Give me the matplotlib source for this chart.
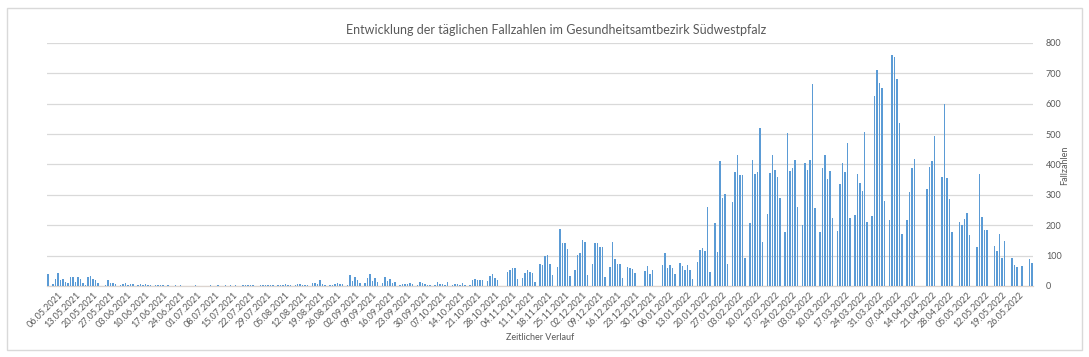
import datetime as dt

import matplotlib.pyplot as plt
import numpy as np
from matplotlib.patches import Rectangle

plt.rcParams['font.family'] = ['Lato', 'DejaVu Sans']

# Tägliche Fallzahlen ab So 02.05.2021, danach Wochen Mo..So
start = dt.date(2021, 5, 2)
faelle = [
    38,
    0, 7, 22, 42, 20, 22, 14,
    9, 28, 31, 14, 31, 22, 11,
    4, 31, 34, 22, 18, 11, 0,
    0, 3, 18, 9, 9, 7, 0,
    4, 7, 9, 3, 7, 5, 0,
    2, 6, 4, 5, 3, 2, 0,
    3, 4, 2, 3, 1, 2, 0,
    1, 2, 1, 2, 1, 1, 0,
    1, 1, 2, 1, 1, 0, 0,
    1, 2, 1, 1, 2, 1, 0,
    2, 1, 3, 1, 2, 1, 0,
    2, 4, 2, 3, 2, 1, 0,
    3, 2, 4, 3, 2, 3, 0,
    3, 4, 2, 5, 3, 2, 0,
    4, 8, 6, 3, 2, 3, 0,
    11, 10, 8, 19, 5, 2, 0,
    3, 2, 8, 11, 8, 5, 0,
    2, 37, 15, 29, 19, 10, 0,
    10, 26, 40, 15, 27, 12, 0,
    10, 30, 15, 22, 9, 13, 0,
    4, 5, 5, 8, 11, 7, 0,
    4, 14, 10, 7, 2, 4, 0,
    2, 14, 8, 5, 2, 13, 0,
    4, 7, 8, 4, 11, 3, 0,
    3, 21, 23, 19, 19, 19, 0,
    15, 32, 38, 26, 19, 0, 0,
    0, 47, 52, 59, 60, 24, 0,
    27, 43, 54, 47, 41, 13, 0,
    71, 69, 98, 103, 71, 36, 0,
    63, 187, 142, 142, 120, 32, 0,
    54, 101, 107, 150, 146, 35, 0,
    71, 142, 142, 127, 127, 29, 0,
    63, 143, 88, 71, 71, 26, 0,
    63, 59, 57, 41, 0, 0, 0,
    49, 65, 38, 52, 0, 0, 0,
    70, 109, 60, 68, 59, 38, 0,
    74, 65, 54, 70, 54, 23, 0,
    79, 118, 125, 115, 260, 45, 0,
    208, 111, 412, 290, 303, 71, 0,
    277, 374, 431, 365, 366, 92, 0,
    208, 413, 370, 376, 520, 146, 0,
    237, 371, 431, 381, 359, 289, 0,
    176, 502, 379, 388, 414, 260, 0,
    199, 404, 382, 414, 664, 255, 0,
    177, 387, 431, 351, 378, 222, 0,
    180, 334, 405, 376, 469, 222, 0,
    234, 370, 338, 311, 505, 211, 0,
    231, 626, 711, 669, 651, 278, 0,
    216, 759, 753, 682, 537, 170, 0,
    216, 309, 389, 419, 0, 0, 0,
    0, 318, 392, 411, 493, 0, 0,
    357, 599, 355, 287, 177, 0, 0,
    212, 201, 221, 240, 169, 0, 0,
    129, 370, 226, 184, 184, 0, 0,
    131, 115, 170, 93, 149, 0, 0,
    92, 70, 63, 0, 66, 0, 0,
    90, 76,
]

dates = [start + dt.timedelta(days=i) for i in range(len(faelle))]
x = np.arange(len(faelle))
tick_pos = x[4::7]
tick_labels = [d.strftime("%d.%m.%Y") for d in dates[4::7]]
y_ticks = [0, 100, 200, 300, 400, 500, 600, 700, 800]

fig = plt.figure(figsize=(10.89, 3.57), dpi=100)
ax = fig.add_axes([0.0429, 0.199, 0.906, 0.681])

ax.bar(x, faelle, width=0.6, color='#5b9bd5', zorder=3)
ax.set_xlim(-0.5, len(faelle) - 0.5)
ax.set_ylim(0, 800)

ax.yaxis.tick_right()
ax.set_yticks(y_ticks)
ax.grid(axis='y', color='#d9d9d9', lw=0.9, zorder=0)
ax.tick_params(axis='y', length=0, pad=9, labelsize=6.5, labelcolor='#595959')

ax.set_xticks(tick_pos)
ax.set_xticklabels(tick_labels, rotation=45, ha='right', rotation_mode='anchor',
                   fontsize=6.5, color='#595959')
ax.tick_params(axis='x', length=0, pad=3)

for side in ['top', 'left', 'right']:
    ax.spines[side].set_visible(False)
ax.spines['bottom'].set_color('#dcd4cf')
ax.spines['bottom'].set_linewidth(0.9)

fig.text(0.511, 0.916, "Entwicklung der täglichen Fallzahlen im Gesundheitsamtbezirk Südwestpfalz",
         ha='center', va='center', fontsize=9, color='#595959')
fig.text(0.496, 0.056, "Zeitlicher Verlauf", ha='center', va='center',
         fontsize=6.5, color='#595959')
fig.text(0.978, 0.538, "Fallzahlen", ha='center', va='center', rotation=90,
         fontsize=6.5, color='#595959')

fig.patches.append(Rectangle((7 / 1089, 1 - 350 / 357), 1075 / 1089, 342 / 357,
                             transform=fig.transFigure, fill=False,
                             edgecolor='#d9d9d9', lw=1))

fig.savefig("out.png", dpi=100)
